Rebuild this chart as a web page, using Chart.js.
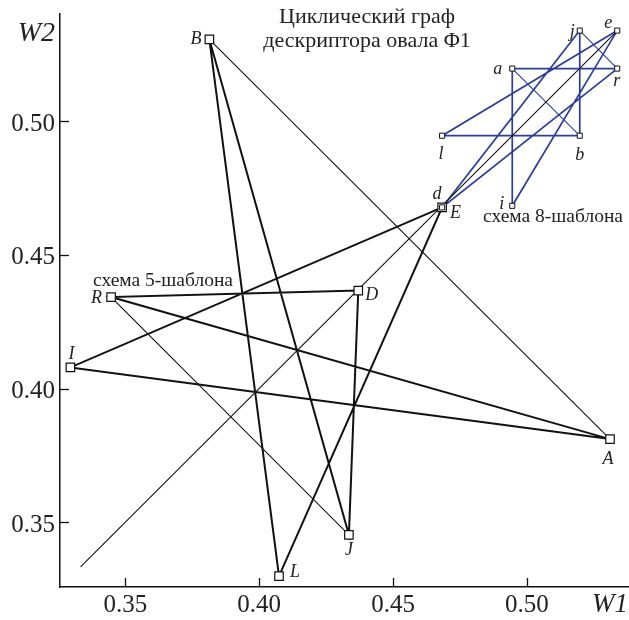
<!DOCTYPE html>
<html>
<head>
<meta charset="utf-8">
<script src="https://cdn.jsdelivr.net/npm/chart.js@4/dist/chart.umd.min.js"></script>
<style>
  html, body { margin: 0; padding: 0; background: #fff; }
  canvas { display: block; }
</style>
</head>
<body>
<canvas id="c" width="629" height="620"></canvas>
<script>
// Axis ticks
const xTickValues = [0.35, 0.40, 0.45, 0.50];
const yTickValues = [0.35, 0.40, 0.45, 0.50];

// Five-template scheme: nodes listed in cycle order B → J → D → R → A → I → E → L → B
const cycle5Labels = ['B', 'J', 'D', 'R', 'A', 'I', 'E', 'L'];
const cycle5X = [0.3814, 0.4335, 0.4370, 0.3447, 0.5310, 0.3295, 0.4683, 0.4074];
const cycle5Y = [0.5305, 0.3453, 0.4366, 0.4342, 0.3811, 0.4079, 0.4677, 0.3299];
// chords of the five-template scheme (pairs of node names)
const chords5 = [['B', 'A'], ['R', 'J']];

// Eight-template scheme: cycle b → l → e → i → a → r → d → j → b
const cycle8Labels = ['b', 'l', 'e', 'i', 'a', 'r', 'd', 'j'];
const cycle8X = [0.5197, 0.4683, 0.5337, 0.4945, 0.4945, 0.5337, 0.4683, 0.5197];
const cycle8Y = [0.4945, 0.4945, 0.5338, 0.4683, 0.5196, 0.5196, 0.4677, 0.5338];
const chords8 = [['a', 'b'], ['j', 'r']];

// Diagonal W1 = W2
const diagonalX = [0.3333, 0.5337];
const diagonalY = [0.3333, 0.5337];

// Axis extents
const xMin = 0.32562, xMax = 0.53809;
const yMin = 0.32581, yMax = 0.5400;

// ---- styles ----
const INK = '#111';
const BLUE = '#2c3d9c';
const SERIF = '"Liberation Serif", "DejaVu Serif", serif';

// label placement relative to each node: [dx, dy, align]
const labelPlace = {
  B: [-8, 5, 'right'], J: [0, 20, 'center'], D: [7, 9, 'left'], R: [-9, 6, 'right'],
  A: [-2, 25, 'center'], I: [1, -8, 'center'], E: [8, 11, 'left'], L: [11, 1, 'left'],
  b: [0, 24, 'center'], l: [-1, 23, 'center'], e: [-5, -3, 'right'], i: [-8, 3, 'right'],
  a: [-10, 5, 'right'], r: [-4, 17, 'left'], d: [-5, -8, 'center'], j: [-5, 6, 'right']
};

function pts(xs, ys) { return xs.map((x, k) => ({ x: x, y: ys[k] })); }
function closed(xs, ys) { const p = pts(xs, ys); p.push(p[0]); return p; }
function chordData(pairs, names, xs, ys) {
  return pairs.map(([p, q]) => {
    const i = names.indexOf(p), j = names.indexOf(q);
    return [{ x: xs[i], y: ys[i] }, { x: xs[j], y: ys[j] }];
  });
}

const lineBase = { showLine: true, pointRadius: 0, tension: 0, fill: false, borderJoinStyle: 'miter' };

const datasets = [];
// markers on top
datasets.push({
  label: 'nodes8', data: pts(cycle8X, cycle8Y), order: 0,
  pointStyle: 'rect', pointRadius: 3.6, backgroundColor: '#fff', borderColor: INK, borderWidth: 1, showLine: false
});
datasets.push({
  label: 'nodes5', data: pts(cycle5X, cycle5Y), order: 0,
  pointStyle: 'rect', pointRadius: 6, backgroundColor: '#fff', borderColor: INK, borderWidth: 1.2, showLine: false
});
// black diagonal
datasets.push(Object.assign({}, lineBase, { label: 'diag', data: pts(diagonalX, diagonalY), borderColor: INK, borderWidth: 1.1, order: 1 }));
// eight-template cycle and chords (blue)
datasets.push(Object.assign({}, lineBase, { label: 'cycle8', data: closed(cycle8X, cycle8Y), borderColor: BLUE, borderWidth: 1.7, order: 2 }));
chordData(chords8, cycle8Labels, cycle8X, cycle8Y).forEach((d, k) => {
  datasets.push(Object.assign({}, lineBase, { label: 'chord8-' + k, data: d, borderColor: BLUE, borderWidth: 1.1, order: 2 }));
});
// five-template cycle and chords (black)
datasets.push(Object.assign({}, lineBase, { label: 'cycle5', data: closed(cycle5X, cycle5Y), borderColor: INK, borderWidth: 2, order: 3 }));
chordData(chords5, cycle5Labels, cycle5X, cycle5Y).forEach((d, k) => {
  datasets.push(Object.assign({}, lineBase, { label: 'chord5-' + k, data: d, borderColor: INK, borderWidth: 1.1, order: 3 }));
});

// Inward tick marks, node names, captions and axis names
const decor = {
  id: 'decor',
  afterDraw(chart) {
    const { ctx, scales: { x, y } } = chart;
    ctx.save();
    ctx.strokeStyle = INK;
    ctx.lineWidth = 1.3;
    xTickValues.forEach(v => {
      const px = Math.round(x.getPixelForValue(v)) + 0.5;
      ctx.beginPath(); ctx.moveTo(px, y.bottom); ctx.lineTo(px, y.bottom - 9); ctx.stroke();
    });
    yTickValues.forEach(v => {
      const py = Math.round(y.getPixelForValue(v)) + 0.5;
      ctx.beginPath(); ctx.moveTo(x.left, py); ctx.lineTo(x.left + 9, py); ctx.stroke();
    });

    ctx.fillStyle = '#222';
    ctx.textBaseline = 'alphabetic';
    // node names
    ctx.font = 'italic 18px ' + SERIF;
    const putNames = (names, xs, ys) => names.forEach((n, k) => {
      const [dx, dy, al] = labelPlace[n];
      ctx.textAlign = al;
      ctx.fillText(n, x.getPixelForValue(xs[k]) + dx, y.getPixelForValue(ys[k]) + dy);
    });
    putNames(cycle5Labels, cycle5X, cycle5Y);
    putNames(cycle8Labels, cycle8X, cycle8Y);

    // axis names
    ctx.font = 'italic 28px ' + SERIF;
    ctx.textAlign = 'right';
    ctx.fillText('W2', x.left - 5, 41);
    ctx.font = 'italic 27px ' + SERIF;
    ctx.textAlign = 'left';
    ctx.fillText('W1', 592, 612);

    // title
    ctx.font = '22px ' + SERIF;
    ctx.textAlign = 'center';
    ctx.fillText('Циклический граф', 367, 23);
    ctx.fillText('дескриптора овала Φ1', 367, 47);

    // scheme captions
    ctx.font = '19.5px ' + SERIF;
    ctx.fillText('схема 5-шаблона', 163, 286);
    ctx.fillText('схема 8-шаблона', 553, 222);
    ctx.restore();
  }
};

const tickFont = { family: SERIF, size: 25 };
// keep the plot frame exactly where the layout puts it
const noPad = s => { s.paddingLeft = 0; s.paddingRight = 0; s.paddingTop = 0; s.paddingBottom = 0; };

new Chart(document.getElementById('c'), {
  type: 'scatter',
  data: { datasets: datasets },
  options: {
    responsive: false,
    animation: false,
    devicePixelRatio: 1,
    layout: { autoPadding: false, padding: { top: 14, right: 0, left: 0, bottom: 0 } },
    plugins: { legend: { display: false }, tooltip: { enabled: false } },
    elements: { line: { borderCapStyle: 'butt' } },
    scales: {
      x: {
        type: 'linear', min: xMin, max: xMax,
        afterBuildTicks: s => { s.ticks = xTickValues.map(v => ({ value: v })); },
        afterFit: s => { s.height = 33; noPad(s); },
        grid: { display: true, drawOnChartArea: false, drawTicks: false, color: 'rgba(0,0,0,0)' },
        border: { display: true, color: INK, width: 1.5 },
        ticks: { font: tickFont, color: '#222', padding: 3, maxRotation: 0, callback: v => v.toFixed(2) }
      },
      y: {
        type: 'linear', min: yMin, max: yMax,
        afterBuildTicks: s => { s.ticks = yTickValues.map(v => ({ value: v })); },
        afterFit: s => { s.width = 60; noPad(s); },
        grid: { display: true, drawOnChartArea: false, drawTicks: false, color: 'rgba(0,0,0,0)' },
        border: { display: true, color: INK, width: 1.5 },
        ticks: { font: tickFont, color: '#222', padding: 5, labelOffset: 3, callback: v => v.toFixed(2) }
      }
    }
  },
  plugins: [decor]
});
</script>
</body>
</html>
